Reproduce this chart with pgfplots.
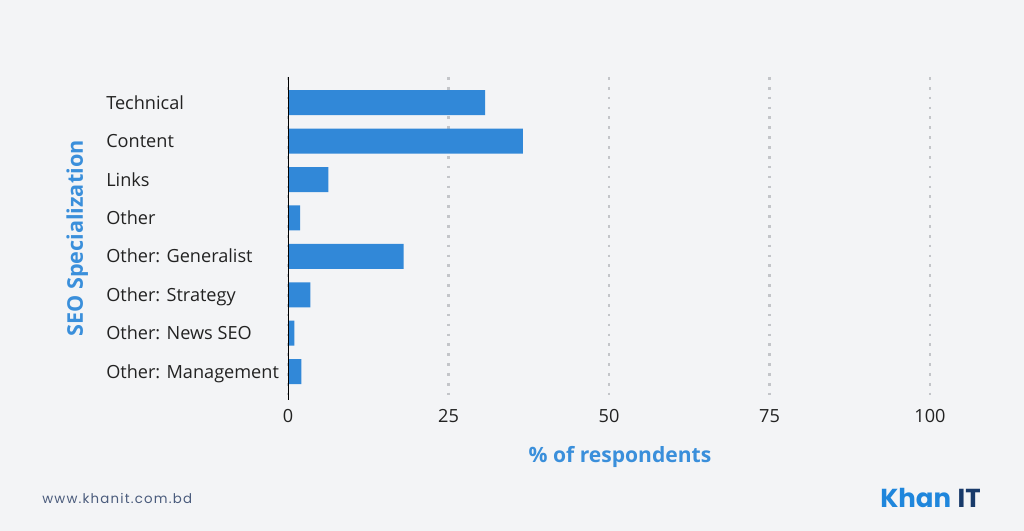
\documentclass[border=0pt]{standalone}
\usepackage{pgfplots}
\pgfplotsset{compat=1.18}
\usepackage{pgfplotstable}
\usepackage{fontspec}
\setmainfont{Open Sans}
\newfontfamily\footfont[LetterSpace=9]{Poppins}
\newfontfamily\logofont{Poppins Bold}
\definecolor{bgcol}{HTML}{F3F4F6}
\definecolor{barcol}{HTML}{3188D8}
\definecolor{labcol}{HTML}{3A8FDB}
\definecolor{txtcol}{HTML}{222222}
\definecolor{gridcol}{HTML}{C3C5C9}
\definecolor{footcol}{HTML}{4A5B7C}
\definecolor{logoblue}{HTML}{1F86DC}
\definecolor{logonavy}{HTML}{183A6A}
\pgfplotstableread{
idx value
0 30.7
1 36.6
2 6.3
3 1.9
4 18.0
5 3.5
6 1.0
7 2.1
}\datatable
\begin{document}
\begin{tikzpicture}
\useasboundingbox (0,0) rectangle (768pt,398.25pt);
\fill[bgcol] (0,0) rectangle (768pt,398.25pt);
\begin{axis}[
  at={(216pt,98.25pt)}, anchor=south west,
  scale only axis,
  width=481.5pt, height=242.25pt,
  xbar, bar width=18.75pt, bar shift=0pt,
  xmin=0, xmax=100,
  ymin=-0.67, ymax=7.74,
  y dir=reverse,
  enlargelimits=false,
  xtick={0,25,50,75,100},
  ytick={0,1,2,3,4,5,6,7},
  yticklabels={Technical,Content,Links,Other,Other: Generalist,Other: Strategy,Other: News SEO,Other: Management},
  major tick length=0pt,
  xmajorgrids,
  major grid style={gridcol, line width=2pt, dash pattern=on 2pt off 5.4pt},
  axis line style={draw=none},
  /pgf/number format/assume math mode=true,
  tick label style={font=\fontsize{13.6}{16}\selectfont, text=txtcol},
  xticklabel style={anchor=center, yshift=-12pt},
  yticklabel style={anchor=west, inner sep=0pt, text height=9.7pt, text depth=0pt, xshift=-136.5pt},
  every axis x label/.style={at={(axis description cs:0.5,0)}, anchor=center, yshift=-42.5pt, xshift=8.25pt, font=\fontsize{15.8}{18}\selectfont\bfseries, text=labcol},
  every axis y label/.style={at={(axis description cs:0,0.5)}, xshift=-158pt, rotate=90, anchor=center, font=\fontsize{16.2}{18}\selectfont\bfseries, text=labcol},
  xlabel={\% of respondents},
  ylabel={SEO Specialization},
]
\addplot[fill=barcol, draw=none] table[x=value, y=idx] {\datatable};
\draw[black, line width=1.9pt] (axis cs:0,-0.67) -- (axis cs:0,7.74);
\end{axis}
\node[anchor=west, inner sep=0pt, text=footcol, font=\footfont\fontsize{10}{12}\selectfont] at (31.5pt,24.75pt) {www.khanit.com.bd};
\node[anchor=west, inner sep=0pt, font=\logofont\fontsize{19.5}{22}\selectfont] at (660pt,24.75pt) {\textcolor{logoblue}{Khan}\hspace{0.25em}\textcolor{logonavy}{IT}};
\end{tikzpicture}
\end{document}
